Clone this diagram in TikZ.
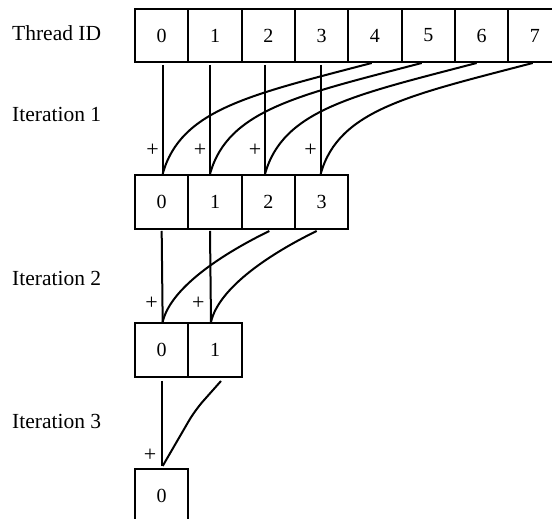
\documentclass[tikz,border=0pt]{standalone}
\usepackage{fontspec}
\setmainfont{Liberation Serif}
\begin{document}
\begin{tikzpicture}[x=1pt,y=1pt,
  cell/.style={draw,line width=2pt,rectangle,minimum width=53.33pt,minimum height=54pt,inner sep=0pt,font=\fontsize{20}{24}\selectfont},
  lbl/.style={anchor=base west,inner sep=0pt,font=\fontsize{21.5}{26}\selectfont},
  plus/.style={inner sep=0pt,font=\fontsize{22}{26}\selectfont},
  wire/.style={line width=2pt},
  arc1/.style={wire,out=194.7,in=74.5,out distance=126pt,in distance=67pt},
  arc2/.style={wire,out=206,in=77,out distance=50pt,in distance=36pt}]
\useasboundingbox (0,0) rectangle (552,519);
% labels
\node[lbl] (lt) at (12,478) {Thread ID};
\node[lbl] (l1) at (12,397.3) {Iteration 1};
\node[lbl] (l2) at (12,233) {Iteration 2};
\node[lbl] (l3) at (12,90.7) {Iteration 3};
% row 1
\foreach \i in {0,...,7}
  \node[cell,minimum height=53pt] (t\i) at (161.67+53.33*\i,483.5) {\i};
% row 2
\foreach \i in {0,...,3}
  \node[cell] (r\i) at (161.67+53.33*\i,317) {\i};
% row 3
\foreach \i in {0,1}
  \node[cell] (s\i) at (161.67+53.33*\i,169) {\i};
% row 4
\node[cell] (u0) at (161.67,23) {0};
% iteration 1
\foreach \i/\o/\c in {0/1/-3.3,1/-5/-6.6,2/-3.3/-5,3/-1/-2.3}{
  \pgfmathtruncatemacro{\j}{\i+4}
  \draw[wire] ([xshift=\o pt,yshift=-2pt]t\i.south) -- ([xshift=\o pt]r\i.north);
  \draw[arc1] ([xshift=\c pt]t\j.south) to ([xshift=\o pt]r\i.north);
  \node[plus] (p\i) at ([xshift=\o pt-10pt,yshift=24pt]r\i.north) {+};
}
% iteration 2
\draw[wire] ([yshift=-1pt]r0.south) -- ([xshift=1pt]s0.north);
\draw[wire] ([xshift=-5pt,yshift=-1pt]r1.south) -- ([xshift=-4pt]s1.north);
\draw[arc2] ([xshift=1pt,yshift=-1pt]r2.south) to ([xshift=1pt]s0.north);
\draw[arc2] ([xshift=-5pt,yshift=-1pt]r3.south) to ([xshift=-4pt]s1.north);
\node[plus] (q0) at ([xshift=-10pt,yshift=19pt]s0.north) {+};
\node[plus] (q1) at ([xshift=-16.7pt,yshift=19pt]s1.north) {+};
% iteration 3
\draw[wire] ([yshift=-3pt]s0.south) -- ([yshift=2pt]u0.north);
\draw[wire,rounded corners=12pt] ([xshift=6pt,yshift=-3pt]s1.south) -- ++(-26,-29.3) -- ([xshift=1pt,yshift=2pt]u0.north);
\node[plus] (v0) at ([xshift=-11.7pt,yshift=12.3pt]u0.north) {+};
\end{tikzpicture}
\end{document}
